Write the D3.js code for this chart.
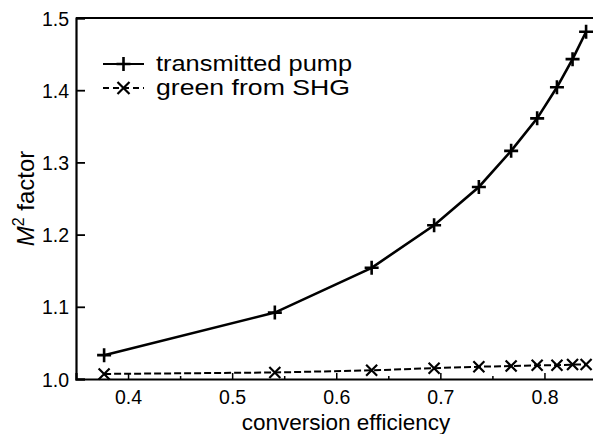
<!DOCTYPE html>
<html><head><meta charset="utf-8">
<script src="https://cdn.jsdelivr.net/npm/d3@7"></script>
<style>body{margin:0;background:#fff}svg{display:block}text{font-family:"Liberation Sans",Arial,sans-serif;fill:#000}</style>
</head><body>
<svg id="c" width="593" height="434"></svg>
<script>
const efficiency = [0.377, 0.541, 0.634, 0.694, 0.737, 0.768, 0.793, 0.812, 0.827, 0.840];
const pumpM2 = [1.033, 1.092, 1.154, 1.213, 1.266, 1.316, 1.361, 1.404, 1.443, 1.481];
const greenM2 = [1.007, 1.009, 1.012, 1.015, 1.017, 1.018, 1.019, 1.019, 1.020, 1.020];
const xTicks = [0.4, 0.5, 0.6, 0.7, 0.8];
const xMinorTicks = [0.45, 0.55, 0.65, 0.75];
const yTicks = [1.0, 1.1, 1.2, 1.3, 1.4, 1.5];
const seriesNames = ["transmitted pump", "green from SHG"];

const svg = d3.select("#c");
const x = d3.scaleLinear().domain([0.35, 0.85]).range([76, 596.5]);
const y = d3.scaleLinear().domain([1.0, 1.5]).range([379, 18]);

// frame top line
svg.append("line").attr("x1", x(0.35)).attr("x2", 593).attr("y1", y(1.5)).attr("y2", y(1.5))
  .attr("stroke", "#000").attr("stroke-width", 2.2);

// x axis
const xAxis = svg.append("g").attr("transform", `translate(0,${y(1.0)})`)
  .call(d3.axisTop(x).tickValues(xTicks).tickSize(6).tickFormat(d3.format(".1f")));
xAxis.select(".domain").attr("stroke-width", 2.2);
xAxis.selectAll(".tick line").attr("stroke-width", 1.5);
xAxis.selectAll(".tick text").attr("y", 25).attr("font-size", 19.5).attr("font-family", "Liberation Sans, Arial").attr("dy", 0);
svg.append("g").attr("transform", `translate(0,${y(1.0)})`)
  .call(d3.axisTop(x).tickValues(xMinorTicks).tickSize(3).tickFormat(""))
  .call(g => g.select(".domain").remove())
  .selectAll(".tick line").attr("stroke-width", 1.5);

// y axis
const yAxis = svg.append("g").attr("transform", `translate(${x(0.35)},0)`)
  .call(d3.axisRight(y).tickValues(yTicks).tickSize(9).tickFormat(d3.format(".1f")));
yAxis.select(".domain").attr("stroke-width", 2.2);
yAxis.selectAll(".tick line").attr("stroke-width", 1.8);
yAxis.selectAll(".tick text").attr("x", -7).attr("text-anchor", "end").attr("dy", "0.36em")
  .attr("font-size", 19.5).attr("font-family", "Liberation Sans, Arial");

// axis labels
svg.append("text").attr("x", (242 + 450) / 2).attr("y", 430).attr("text-anchor", "middle")
  .attr("font-size", 22.5).text("conversion efficiency");
const yl = svg.append("text").attr("transform", `translate(34,${(y(1.0) + y(1.5)) / 2}) rotate(-90)`)
  .attr("text-anchor", "middle").attr("font-size", 24);
yl.append("tspan").attr("font-style", "italic").text("M");
yl.append("tspan").attr("font-size", 16).attr("dy", -10).text("2");
yl.append("tspan").attr("dy", 10).text(" factor");

const pumpData = efficiency.map((e, i) => [e, pumpM2[i]]);
const greenData = efficiency.map((e, i) => [e, greenM2[i]]);
const line = d3.line().x(d => x(d[0])).y(d => y(d[1]));

svg.append("path").datum(greenData).attr("d", line).attr("fill", "none")
  .attr("stroke", "#000").attr("stroke-width", 2).attr("stroke-dasharray", "7,3");
svg.append("path").datum(pumpData).attr("d", line).attr("fill", "none")
  .attr("stroke", "#000").attr("stroke-width", 2.6);

function plus(g, cx, cy, s) {
  g.append("path").attr("d", `M${cx - s},${cy}H${cx + s}M${cx},${cy - s}V${cy + s}`)
    .attr("stroke", "#000").attr("stroke-width", 2.6).attr("fill", "none");
}
function cross(g, cx, cy, s) {
  g.append("path").attr("d", `M${cx - s},${cy - s}L${cx + s},${cy + s}M${cx - s},${cy + s}L${cx + s},${cy - s}`)
    .attr("stroke", "#000").attr("stroke-width", 2.2).attr("fill", "none");
}
const mk = svg.append("g");
pumpData.forEach(d => plus(mk, x(d[0]), y(d[1]), 7));
greenData.forEach(d => cross(mk, x(d[0]), y(d[1]), 5.5));

// legend
const lg = svg.append("g");
lg.append("line").attr("x1", 103).attr("x2", 144).attr("y1", 64).attr("y2", 64)
  .attr("stroke", "#000").attr("stroke-width", 1.8);
plus(lg, 123.5, 64, 7);
lg.append("text").attr("x", 156).attr("y", 71).attr("font-size", 21.5)
  .attr("textLength", 196).attr("lengthAdjust", "spacingAndGlyphs").text(seriesNames[0]);
lg.append("line").attr("x1", 103).attr("x2", 144).attr("y1", 88).attr("y2", 88)
  .attr("stroke", "#000").attr("stroke-width", 1.8).attr("stroke-dasharray", "6,4");
cross(lg, 123.5, 88, 6);
lg.append("text").attr("x", 156).attr("y", 95).attr("font-size", 21.5)
  .attr("textLength", 194).attr("lengthAdjust", "spacingAndGlyphs").text(seriesNames[1]);
</script>
</body></html>
